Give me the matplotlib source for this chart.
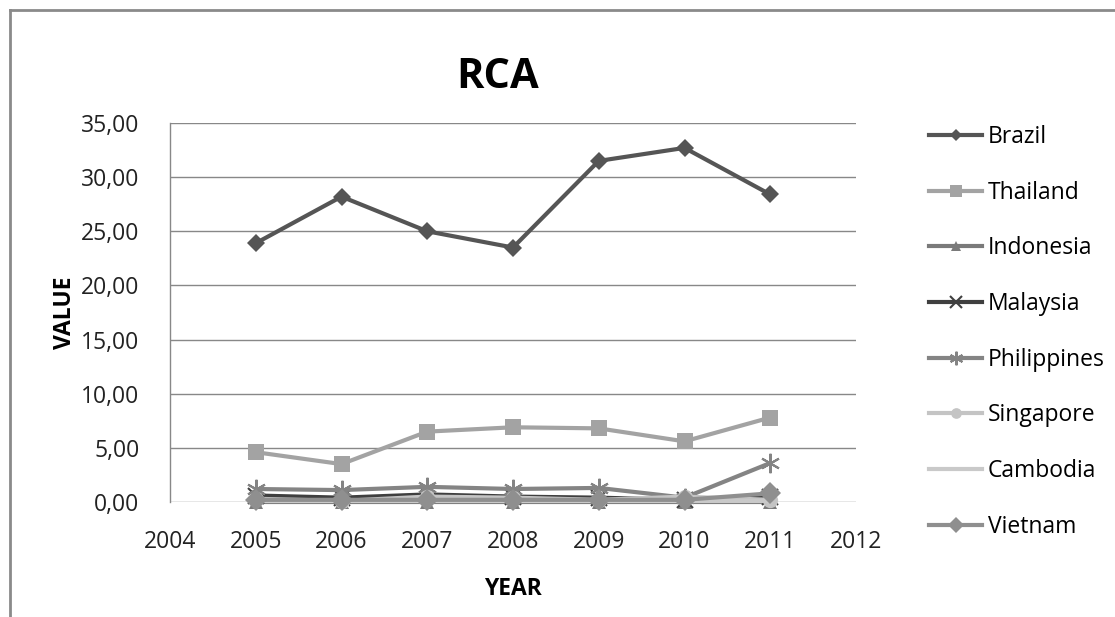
import matplotlib
matplotlib.use("Agg")
import matplotlib.pyplot as plt
from matplotlib.lines import Line2D

plt.rcParams['font.family'] = ['Open Sans', 'DejaVu Sans']

years = [2005, 2006, 2007, 2008, 2009, 2010, 2011]
brazil = [23.9, 28.2, 25.0, 23.5, 31.5, 32.7, 28.4]
thailand = [4.6, 3.5, 6.5, 6.9, 6.8, 5.6, 7.8]
indonesia = [0.02, 0.02, 0.02, 0.02, 0.02, 0.02, 0.02]
malaysia = [0.6, 0.4, 0.7, 0.5, 0.4, 0.2, 0.5]
philippines = [1.2, 1.1, 1.4, 1.2, 1.3, 0.4, 3.6]
singapore = [0.3, 0.1, 0.5, 0.4, 0.2, 0.5, 0.2]
cambodia = [0.05, 0.05, 0.05, 0.05, 0.05, 0.05, 0.05]
vietnam = [0.2, 0.2, 0.2, 0.2, 0.2, 0.2, 0.8]

labels = ["Brazil", "Thailand", "Indonesia", "Malaysia", "Philippines",
          "Singapore", "Cambodia", "Vietnam"]
x_ticks = [2004, 2005, 2006, 2007, 2008, 2009, 2010, 2011, 2012]
y_ticks = [0, 5, 10, 15, 20, 25, 30, 35]

series = [brazil, thailand, indonesia, malaysia, philippines, singapore, cambodia, vietnam]
colors = ["#555555", "#a3a3a3", "#7a7a7a", "#3f3f3f", "#848484", "#c4c4c4", "#c9c9c9", "#8f8f8f"]
markers = ["D", "s", "^", "x", (6, 2, 0), "o", None, "D"]
msizes = [9, 12, 10, 12, 14, 11, 0, 11]

fig = plt.figure(figsize=(11.15, 6.17), dpi=100)
ax = fig.add_axes([170/1115, 1-502/617, 686/1115, 379/617])

for vals, c, m, ms, lab in zip(series, colors, markers, msizes, labels):
    ax.plot(years, vals, color=c, lw=3, marker=m, markersize=ms,
            markeredgewidth=1.5 if m in ("x", (6, 2, 0)) else 0,
            markeredgecolor=c, label=lab, clip_on=False, zorder=3)

ax.set_xlim(2004, 2012)
ax.set_ylim(0, 35)
ax.set_xticks(x_ticks)
ax.set_xticklabels([str(t) for t in x_ticks])
ax.set_yticks(y_ticks)
ax.set_yticklabels([f"{t:.2f}".replace(".", ",") for t in y_ticks])
ax.tick_params(axis='both', length=0, labelsize=16.5, colors="#222222")
ax.tick_params(axis='y', pad=22)
ax.tick_params(axis='x', pad=20)
ax.grid(axis='y', color="#888888", lw=1)
ax.set_axisbelow(True)
for s in ["top", "right", "bottom"]:
    ax.spines[s].set_visible(False)
ax.spines["left"].set_color("#888888")
ax.spines["left"].set_linewidth(1)

ax.set_xlabel("YEAR", fontsize=16.5, fontweight="bold", labelpad=17)
ax.set_ylabel("VALUE", fontsize=16.5, fontweight="bold", labelpad=3)
fig.text(498/1115, 1-78/617, "RCA", fontsize=30, fontweight="bold",
         ha="center", va="center")

leg = ax.legend(loc="upper left", bbox_to_anchor=(920/1115, 1-116/617),
                bbox_transform=fig.transFigure, frameon=False,
                fontsize=16.5, handlelength=2.3, handletextpad=0.25,
                labelspacing=1.38, borderaxespad=0, markerscale=0.7)

# outer chart frame (left and top visible)
fig.add_artist(Line2D([10/1115, 10/1115], [0, 1-10/617], color="#8a8a8a",
                      lw=2, transform=fig.transFigure))
fig.add_artist(Line2D([10/1115, 1], [1-10/617, 1-10/617], color="#8a8a8a",
                      lw=2, transform=fig.transFigure))

fig.savefig("out.png", dpi=100)
